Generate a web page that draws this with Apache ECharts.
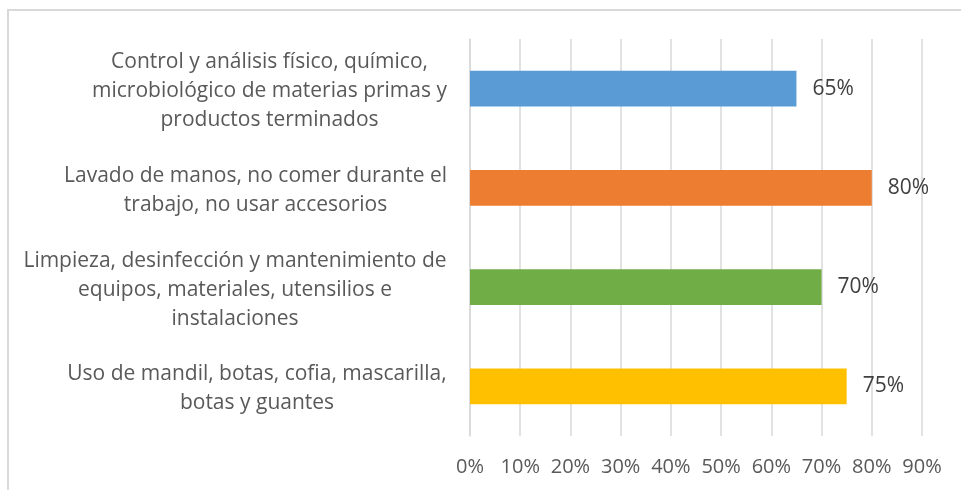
<!DOCTYPE html>
<html>
<head>
<meta charset="utf-8">
<script src="https://cdn.jsdelivr.net/npm/echarts@6/dist/echarts.min.js"></script>
<style>
  html, body { margin: 0; padding: 0; background: #fff; }
  #main { width: 961px; height: 490px; }
</style>
</head>
<body>
<div id="main"></div>
<script>
// categorias de arriba hacia abajo
var categories = [
    'Control y análisis físico, químico,\nmicrobiológico de materias primas y\nproductos terminados',
    'Lavado de manos, no comer durante el\ntrabajo, no usar accesorios',
    'Limpieza, desinfección y mantenimiento de\nequipos, materiales, utensilios e\ninstalaciones',
    'Uso de mandil, botas, cofia, mascarilla,\nbotas y guantes'
];
var values = [65, 80, 70, 75];
var colors = ['#5B9BD5', '#ED7D31', '#70AD47', '#FFC000'];
var xTicks = [0, 10, 20, 30, 40, 50, 60, 70, 80, 90];

var FONT = '"Open Sans", sans-serif';
var FS = 21;

// ancho de cada bloque para centrar las lineas dentro del bloque
var ctx = document.createElement('canvas').getContext('2d');
ctx.font = FS + 'px ' + FONT;
var rich = {};
categories.forEach(function (c, i) {
    var w = 0;
    c.split('\n').forEach(function (l) { w = Math.max(w, ctx.measureText(l).width); });
    rich['l' + i] = { width: Math.ceil(w) + 2, align: 'center', fontSize: FS, fontFamily: FONT, color: '#595959', lineHeight: 29 };
});

var myChart = echarts.init(document.getElementById('main'));

var option = {
    backgroundColor: '#fff',
    animation: false,
    graphic: [{
        type: 'rect',
        shape: { x: 8, y: 10, width: 1000, height: 600 },
        style: { fill: 'none', stroke: '#d9d9d9', lineWidth: 2 },
        silent: true
    }],
    grid: { left: 470, right: 39, top: 39, bottom: 54 },
    xAxis: {
        type: 'value',
        min: xTicks[0],
        max: xTicks[xTicks.length - 1],
        interval: 10,
        axisLine: { show: false },
        axisTick: { show: false },
        splitLine: { lineStyle: { color: '#d9d9d9', width: 1.5 } },
        axisLabel: {
            margin: 21,
            color: '#595959',
            fontSize: 20,
            fontFamily: FONT,
            formatter: function (v) { return v + '%'; }
        }
    },
    yAxis: {
        type: 'category',
        inverse: true,
        data: categories,
        axisLine: { lineStyle: { color: '#d9d9d9', width: 1.5 } },
        axisTick: { show: false },
        axisLabel: {
            margin: 22,
            padding: [5, 0, 0, 0],
            formatter: function (v, i) {
                return v.split('\n').map(function (l) { return '{l' + i + '|' + l + '}'; }).join('\n');
            },
            rich: rich
        }
    },
    series: [{
        type: 'bar',
        barWidth: '36%',
        data: values.map(function (v, i) {
            return { value: v, itemStyle: { color: colors[i] } };
        }),
        label: {
            show: true,
            position: 'right',
            distance: 16,
            color: '#404040',
            fontSize: FS,
            fontFamily: FONT,
            formatter: function (p) { return p.value + '%'; }
        }
    }]
};

myChart.setOption(option);
</script>
</body>
</html>
